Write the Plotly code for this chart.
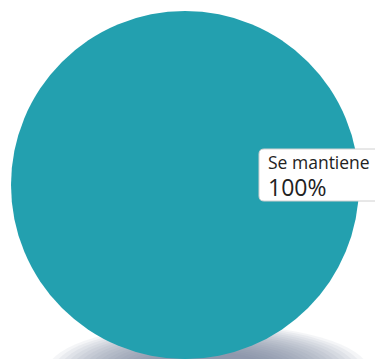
import plotly.graph_objects as go

labels = ["Se mantiene"]
values = [100]
colors = ["#23A0AF"]

W, H = 375, 359

def px(x):
    return x / W

def py(y):
    return 1 - y / H

fig = go.Figure()
fig.add_trace(go.Pie(
    labels=labels, values=values, marker=dict(colors=colors, line=dict(width=0)),
    textinfo="none", hoverinfo="label+percent", sort=False, showlegend=False,
    domain=dict(x=[px(10), px(360)], y=[0, py(11)]),
))

shapes = []
# soft shadow under pie
n = 18
for i in range(n):
    f = i / (n - 1)
    rx = 160 - 100 * f
    ry = 46 - 28 * f
    cx, cy = 208, 370
    shapes.append(dict(
        type="circle", xref="paper", yref="paper", layer="below",
        x0=px(cx - rx), x1=px(cx + rx), y0=py(cy + ry), y1=py(cy - ry),
        fillcolor="rgba(110,130,158,0.08)", line=dict(width=0),
    ))

# rounded label box
x0, x1, y0, y1, r = 259, 382, 149, 201, 5
path = (f"M {px(x0+r)},{py(y0)} L {px(x1-r)},{py(y0)} "
        f"Q {px(x1)},{py(y0)} {px(x1)},{py(y0+r)} L {px(x1)},{py(y1-r)} "
        f"Q {px(x1)},{py(y1)} {px(x1-r)},{py(y1)} L {px(x0+r)},{py(y1)} "
        f"Q {px(x0)},{py(y1)} {px(x0)},{py(y1-r)} L {px(x0)},{py(y0+r)} "
        f"Q {px(x0)},{py(y0)} {px(x0+r)},{py(y0)} Z")
shapes.append(dict(type="path", xref="paper", yref="paper", layer="above", path=path,
                   fillcolor="white", line=dict(color="#d0d0d0", width=1)))

font_family = "Open Sans, Lato, sans-serif"
fig.update_layout(
    width=W, height=H, margin=dict(l=0, r=0, t=0, b=0),
    paper_bgcolor="white", plot_bgcolor="white",
    shapes=shapes,
    annotations=[
        dict(xref="paper", yref="paper", x=px(266), y=py(162), xanchor="left", yanchor="middle",
             showarrow=False, align="left", text=labels[0],
             font=dict(family=font_family, size=17.5, color="#222222")),
        dict(xref="paper", yref="paper", x=px(266), y=py(187), xanchor="left", yanchor="middle",
             showarrow=False, align="left", text=f"{values[0]}%",
             font=dict(family=font_family, size=23, color="#222222")),
    ],
)

fig.write_html("out.html", config={"displayModeBar": False},
               post_script="document.body.style.margin='0';document.body.style.overflow='hidden';")
